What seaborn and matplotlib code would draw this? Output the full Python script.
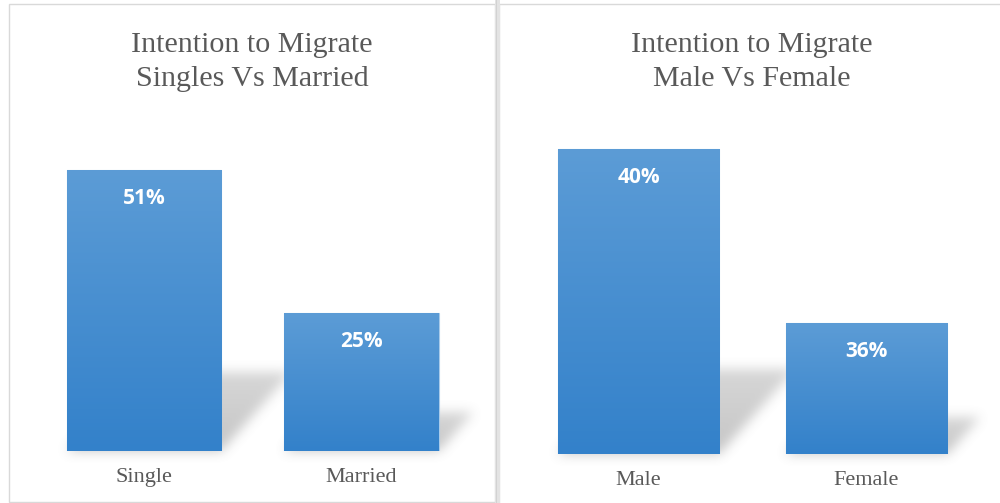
import numpy as np
import pandas as pd
import matplotlib
matplotlib.use("Agg")
import matplotlib.pyplot as plt
import seaborn as sns
from matplotlib.patches import Rectangle
from matplotlib.colors import LinearSegmentedColormap

# ---------------- data ----------------
left_title = "Intention to Migrate\nSingles Vs Married"
left_cats = ["Single", "Married"]
left_vals = [51, 25]

right_title = "Intention to Migrate\nMale Vs Female"
right_cats = ["Male", "Female"]
right_vals = [40, 36]

# ---------------- style ----------------
sns.set_theme(style="white")
plt.rcParams["font.family"] = ["Liberation Serif", "DejaVu Serif"]

W, H = 1000, 503
fig = plt.figure(figsize=(W / 100, H / 100), dpi=100)
fig.patch.set_facecolor("white")

TXT = "#595959"
TOP_C = "#5C9CD6"
BOT_C = "#3381CA"
grad_cmap = LinearSegmentedColormap.from_list("g", [BOT_C, TOP_C])


def px_axes(l, r, top, bottom):
    return fig.add_axes([l / W, 1 - bottom / H, (r - l) / W, (bottom - top) / H])


# panel frames (figure pixel coordinates, y from top)
def frame(x0, x1, y0, y1, **kw):
    fig.patches.append(Rectangle((x0 / W, 1 - y1 / H), (x1 - x0) / W, (y1 - y0) / H,
                                 transform=fig.transFigure, fill=False, **kw))


frame(9, 495, 4, 502, edgecolor="#D9D9D9", lw=1.0, zorder=-5)
frame(499, 1010, 4, 510, edgecolor="#D9D9D9", lw=1.0, zorder=-5)
fig.patches.append(Rectangle((495 / W, 0), 5 / W, 1, transform=fig.transFigure,
                             facecolor="#E3E3E3", edgecolor="none", zorder=-4))
fig.patches.append(Rectangle((496 / W, 0), 1.2 / W, 1, transform=fig.transFigure,
                             facecolor="#D2D2D2", edgecolor="none", zorder=-4))

panels = [
    dict(cats=left_cats, vals=left_vals, title=left_title, ylim=(0, 60),
         box=(35.25, 470.25, 120.4, 451), cx=252),
    dict(cats=right_cats, vals=right_vals, title=right_title, ylim=(33, 40.7),
         box=(524.5, 980.5, 119, 454), cx=752),
]

shadow = np.zeros((H, W))
yy, xx = np.mgrid[0:H, 0:W]  # display coords, origin bottom-left
yy = yy + 0.5
xx = xx + 0.5

for p in panels:
    ax = px_axes(*p["box"])
    df = pd.DataFrame({"cat": p["cats"], "val": p["vals"]})
    sns.barplot(data=df, x="cat", y="val", ax=ax, width=0.71, color=TOP_C,
                edgecolor="#A9CBEA", linewidth=0.8, zorder=3)
    ax.set_xlim(-0.5, 1.5)
    ax.set_ylim(*p["ylim"])
    ax.set_facecolor("none")
    for s in ax.spines.values():
        s.set_visible(False)
    ax.set_yticks([])
    ax.set_xlabel("")
    ax.set_ylabel("")
    ax.tick_params(axis="x", length=0, pad=12.5, labelsize=16, labelcolor=TXT)
    for lab in ax.get_xticklabels():
        lab.set_fontfamily(["Liberation Serif", "DejaVu Serif"])

    y_bottom = p["ylim"][0]
    for patch, v in zip(ax.patches, p["vals"]):
        x0 = patch.get_x()
        w = patch.get_width()
        # gradient fill clipped to the bar
        grad = np.linspace(0, 1, 256).reshape(-1, 1)
        im = ax.imshow(grad, cmap=grad_cmap, origin="lower", aspect="auto",
                       extent=(x0, x0 + w, y_bottom, v), zorder=3.5,
                       interpolation="bicubic")
        im.set_clip_path(patch)
        # value label
        ax.annotate(f"{v}%", xy=(x0 + w / 2, v), xytext=(0, -20.5),
                    textcoords="offset points", ha="center", va="center",
                    fontsize=15, fontweight="bold", color="white",
                    fontfamily=["Open Sans", "DejaVu Sans"], zorder=5)
        # shadow geometry in display pixels
        (px0, py0) = ax.transData.transform((x0, y_bottom))
        (px1, py1) = ax.transData.transform((x0 + w, v))
        hbar = py1 - py0
        hs = 0.28 * hbar
        dx = 0.25 * hbar
        t = (yy - py0) / hs
        xs = xx - dx * t
        mask = (t >= 0) & (t <= 1) & (xs >= px0) & (xs <= px1)
        shadow += mask * (1.0 - 0.3 * np.clip(t, 0, 1))
    ax.set_xlim(-0.5, 1.5)

    # title (two lines)
    l1, l2 = p["title"].split("\n")
    fig.text(p["cx"] / W, 1 - 52 / H, l1, ha="center", va="baseline",
             fontsize=21.6, color=TXT, fontfamily=["Liberation Serif", "DejaVu Serif"])
    fig.text(p["cx"] / W, 1 - 86 / H, l2, ha="center", va="baseline",
             fontsize=21.6, color=TXT, fontfamily=["Liberation Serif", "DejaVu Serif"])


# blur the shadow
def box_blur(a, r, axis):
    pad = [(0, 0), (0, 0)]
    pad[axis] = (r + 1, r)
    c = np.cumsum(np.pad(a, pad, mode="edge"), axis=axis)
    if axis == 0:
        return (c[2 * r + 1:, :] - c[:-2 * r - 1, :]) / (2 * r + 1)
    return (c[:, 2 * r + 1:] - c[:, :-2 * r - 1]) / (2 * r + 1)


sh = np.clip(shadow, 0, 1)
for _ in range(3):
    sh = box_blur(sh, 5, 0)
    sh = box_blur(sh, 5, 1)

rgba = np.zeros((H, W, 4))
rgba[..., 0:3] = 0.5
rgba[..., 3] = 0.45 * sh
fig.figimage(rgba, xo=0, yo=0, origin="lower", zorder=-3)

fig.savefig("out.png", dpi=100, facecolor="white")
